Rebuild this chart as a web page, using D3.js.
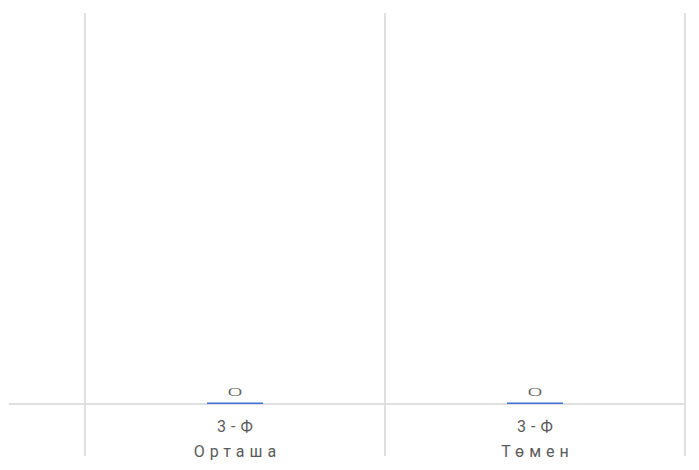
<!DOCTYPE html>
<html><head><meta charset="utf-8">
<script src="https://cdn.jsdelivr.net/npm/d3@7"></script>
<style>body{margin:0;background:#fff;}svg{display:block;}</style>
</head><body>
<svg id="c" width="699" height="470"></svg>
<script>
const categoryLine1 = ["3-Ф", "3-Ф"];
const categoryLine2 = ["Орташа", "Төмен"];
const categories = ["3-Ф Орташа", "3-Ф Төмен"];
const values = [0, 0];
const valueLabels = ["0", "0"];

(function () {
const svg = d3.select("#c");
const plotLeft = 85, plotRight = 685, plotTop = 13, baseY = 404;

const x = d3.scaleBand().domain(categories).range([plotLeft, plotRight]).padding(0);
const y = d3.scaleLinear().domain([0, 1]).range([baseY, plotTop]);
const barFrac = 56 / 300;

// vertical grid lines at band boundaries
const bounds = categories.map(c => x(c)).concat([plotRight]);
svg.append("g").selectAll("line").data(bounds).join("line")
  .attr("x1", d => d).attr("x2", d => d)
  .attr("y1", plotTop).attr("y2", 456)
  .attr("stroke", "#e0e0e0").attr("stroke-width", 2);

// baseline
svg.append("line").attr("x1", 9).attr("x2", plotRight)
  .attr("y1", y(0)).attr("y2", y(0))
  .attr("stroke", "#e0e0e0").attr("stroke-width", 2);

// bars
const bw = x.bandwidth() * barFrac;
svg.append("g").selectAll("rect").data(values).join("rect")
  .attr("x", (d, i) => x(categories[i]) + (x.bandwidth() - bw) / 2)
  .attr("width", bw)
  .attr("y", d => Math.min(y(d), y(0) - 1.5))
  .attr("height", d => Math.max(y(0) - y(d), 1.5))
  .attr("fill", "#3a72d6");

// value labels
svg.append("g").selectAll("text").data(values).join("text")
  .attr("transform", (d, i) => `translate(${x(categories[i]) + x.bandwidth() / 2},${y(d) - 8.5}) scale(2.5,1)`)
  .attr("text-anchor", "middle")
  .attr("font-family", "Roboto, sans-serif")
  .attr("font-weight", 300)
  .attr("font-size", 11.5)
  .attr("fill", "#666")
  .text((d, i) => valueLabels[i]);

// category labels
const lab = svg.append("g").selectAll("text").data(categories).join("text")
  .attr("text-anchor", "middle")
  .attr("font-family", "Roboto, sans-serif")
  .attr("font-size", 16)
  .attr("letter-spacing", "5px")
  .attr("fill", "#5a5a5a");
lab.append("tspan").attr("x", d => x(d) + x.bandwidth() / 2 + 2.5).attr("y", 432)
  .text((d, i) => categoryLine1[i]);
lab.append("tspan").attr("x", d => x(d) + x.bandwidth() / 2 + 2.5).attr("y", 457)
  .text((d, i) => categoryLine2[i]);
})();
</script>
</body></html>
